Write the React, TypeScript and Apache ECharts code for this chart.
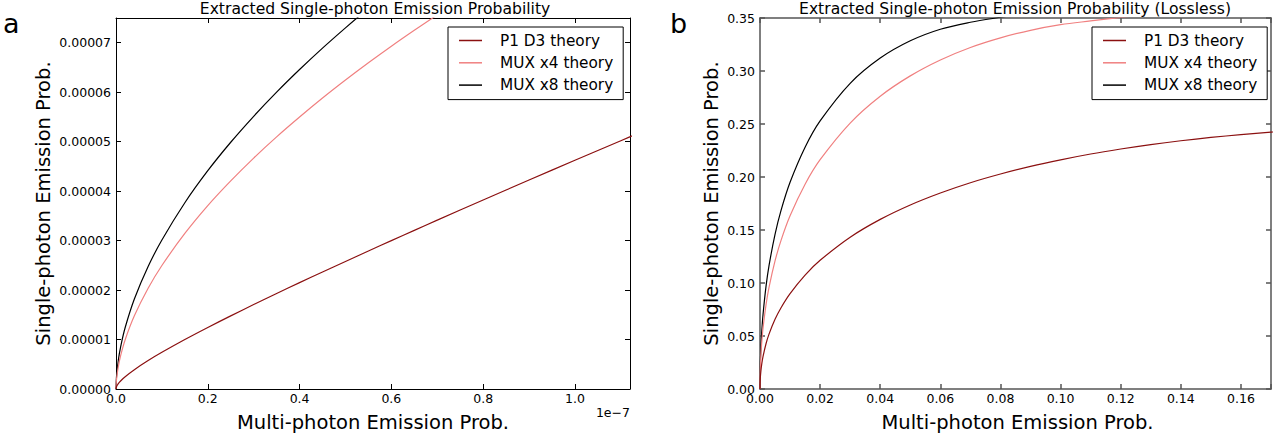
import React, { useEffect, useRef } from "react";
import * as echarts from "echarts";

// ---------- data ----------
const SERIES_NAMES = ["P1 D3 theory", "MUX x4 theory", "MUX x8 theory"];
const COLORS = ["#8b1010", "#f08080", "#000000"];

// Panel a: x in units of 1e-7, y in units of 1e-5
const X_L = [0, 0.001, 0.005, 0.01, 0.02, 0.04, 0.07, 0.1, 0.15, 0.2, 0.25, 0.3, 0.35, 0.4, 0.45, 0.5, 0.55, 0.6, 0.65, 0.7, 0.8, 0.9, 1.0, 1.1, 1.15];
const P1_L = [0, 0.044, 0.108, 0.162, 0.249, 0.391, 0.575, 0.741, 1.0, 1.244, 1.479, 1.707, 1.93, 2.15, 2.366, 2.579, 2.79, 3.0, 3.207, 3.413, 3.821, 4.224, 4.624, 5.02, 5.217];
const MUX4_L = [0, 0.181, 0.452, 0.672, 0.997, 1.479, 2.036, 2.496, 3.144, 3.707, 4.207, 4.668, 5.096, 5.497, 5.881, 6.245, 6.594, 6.929, 7.251, 7.564, null, null, null, null, null];
const MUX8_L = [0, 0.239, 0.58, 0.849, 1.243, 1.82, 2.476, 3.012, 3.766, 4.413, 4.988, 5.513, 6.001, 6.458, 6.891, 7.301, 7.695, null, null, null, null, null, null, null, null];

// Panel b (lossless)
const X_R = [0, 0.00002, 0.0001, 0.0003, 0.0006, 0.001, 0.002, 0.003, 0.005, 0.007, 0.01, 0.015, 0.02, 0.03, 0.04, 0.05, 0.06, 0.07, 0.08, 0.09, 0.1, 0.11, 0.12, 0.13, 0.14, 0.15, 0.16, 0.17, 0.175];
const P1_R = [0, 0.0045, 0.0099, 0.017, 0.0239, 0.0306, 0.0427, 0.0518, 0.0657, 0.0767, 0.09, 0.1075, 0.1214, 0.1432, 0.16, 0.1736, 0.1849, 0.1946, 0.2028, 0.21, 0.2162, 0.2217, 0.2264, 0.2306, 0.2342, 0.2373, 0.24, 0.2423, 0.2433];
const MUX4_R = [0, 0.0084, 0.0186, 0.0319, 0.0447, 0.0571, 0.0793, 0.0958, 0.1208, 0.1402, 0.1634, 0.1932, 0.2163, 0.2509, 0.2762, 0.2954, 0.3104, 0.3222, 0.3313, 0.3384, 0.3437, 0.3472, 0.3505, 0.354, null, null, null, null, null];
const MUX8_R = [0, 0.0104, 0.023, 0.0393, 0.055, 0.0701, 0.0968, 0.1164, 0.1459, 0.1685, 0.195, 0.2281, 0.2529, 0.2884, 0.3122, 0.3285, 0.3394, 0.346, 0.3507, 0.355, null, null, null, null, null, null, null, null, null];

const X_SCALE_L = 1e-7;
const Y_SCALE_L = 1e-5;

// axis settings
const L_XMAX = 1.12e-7, L_XINT = 2e-8, L_YMAX = 7.5e-5, L_YINT = 1e-5;
const R_XMAX = 0.17, R_XINT = 0.02, R_YMAX = 0.35, R_YINT = 0.05;

const FONT = "DejaVu Sans";

const isMult = (v: number, step: number) => Math.abs(v / step - Math.round(v / step)) < 1e-6;

function pairs(xs: number[], ys: (number | null)[], sx = 1, sy = 1) {
  const out: number[][] = [];
  xs.forEach((x, i) => {
    const y = ys[i];
    if (y !== null && y !== undefined) out.push([x * sx, y * sy]);
  });
  return out;
}

function buildOption() {
  const axisStyle = (color: string, width: number) => ({
    axisLine: { show: true, onZero: false, lineStyle: { color, width } },
    axisTick: { show: true, inside: true, length: 5, lineStyle: { color, width } },
    splitLine: { show: false },
  });
  const lbl = { color: "#000", fontFamily: FONT, fontSize: 12.5 };
  const cL = "#000";
  const cR = "#555";
  const wL = 1;
  const wR = 1.5;

  const leftData = [P1_L, MUX4_L, MUX8_L];
  const rightData = [P1_R, MUX4_R, MUX8_R];

  const series: any[] = [];
  const mk = (name: string, i: number, axis: number, data: number[][]) => ({
    name,
    type: "line",
    xAxisIndex: axis,
    yAxisIndex: axis,
    data,
    symbol: "none",
    smooth: 0.35,
    lineStyle: { color: COLORS[i], width: 1.2 },
    itemStyle: { color: COLORS[i] },
    z: 5 - i,
  });
  SERIES_NAMES.forEach((name, i) => {
    series.push(mk(name, i, 0, pairs(X_L, leftData[i], X_SCALE_L, Y_SCALE_L)));
  });
  SERIES_NAMES.forEach((name, i) => {
    series.push(mk(name, i, 2, pairs(X_R, rightData[i])));
  });

  const legendCommon = {
    orient: "vertical",
    top: 27,
    data: SERIES_NAMES,
    icon: "rect",
    itemWidth: 23,
    itemHeight: 1.5,
    itemGap: 7.3,
    padding: [6, 10, 7, 11],
    borderColor: "#000",
    borderWidth: 1,
    borderRadius: 0,
    backgroundColor: "#fff",
    selectedMode: false,
    textStyle: { fontFamily: FONT, fontSize: 15.3, color: "#000", padding: [0, 0, 0, 13] },
  };

  const txt = (text: string, x: number, y: number, size: number, align = "center", rotation = 0) => ({
    type: "text",
    x,
    y,
    rotation,
    style: { text, fontFamily: FONT, fontSize: size, fill: "#000", align, verticalAlign: "middle" },
  });

  return {
    animation: false,
    backgroundColor: "#fff",
    grid: [
      { left: 116, right: 644, top: 18, bottom: 45 },
      { left: 760, right: -1, top: 18, bottom: 45 },
    ],
    xAxis: [
      {
        gridIndex: 0, type: "value", position: "bottom", min: 0, max: L_XMAX, interval: L_XINT,
        ...axisStyle(cL, wL),
        axisLabel: { ...lbl, margin: 3, formatter: (v: number) => (isMult(v, L_XINT) ? (v / X_SCALE_L).toFixed(1) : "") },
      },
      {
        gridIndex: 0, type: "value", position: "top", min: 0, max: L_XMAX, interval: L_XINT,
        ...axisStyle(cL, wL), axisLabel: { show: false },
      },
      {
        gridIndex: 1, type: "value", position: "bottom", min: 0, max: R_XMAX, interval: R_XINT,
        ...axisStyle(cR, wR),
        axisLabel: { ...lbl, margin: 3, formatter: (v: number) => (isMult(v, R_XINT) ? v.toFixed(2) : "") },
      },
      {
        gridIndex: 1, type: "value", position: "top", min: 0, max: R_XMAX, interval: R_XINT,
        ...axisStyle(cR, wR), axisLabel: { show: false },
      },
    ],
    yAxis: [
      {
        gridIndex: 0, type: "value", position: "left", min: 0, max: L_YMAX, interval: L_YINT,
        ...axisStyle(cL, wL),
        axisLabel: { ...lbl, margin: 5, formatter: (v: number) => (isMult(v, L_YINT) ? v.toFixed(5) : "") },
      },
      {
        gridIndex: 0, type: "value", position: "right", min: 0, max: L_YMAX, interval: L_YINT,
        ...axisStyle(cL, wL), axisLabel: { show: false },
      },
      {
        gridIndex: 1, type: "value", position: "left", min: 0, max: R_YMAX, interval: R_YINT,
        ...axisStyle(cR, wR),
        axisLabel: { ...lbl, margin: 5, formatter: (v: number) => (isMult(v, R_YINT) ? v.toFixed(2) : "") },
      },
      {
        gridIndex: 1, type: "value", position: "right", min: 0, max: R_YMAX, interval: R_YINT,
        ...axisStyle(cR, wR), axisLabel: { show: false },
      },
    ],
    legend: [
      { ...legendCommon, left: 448 },
      { ...legendCommon, left: 1092 },
    ],
    graphic: [
      txt("a", 3, 23.7, 27, "left"),
      txt("b", 670, 23.7, 27, "left"),
      txt("Extracted Single-photon Emission Probability", 375, 9, 15.6),
      txt("Extracted Single-photon Emission Probability (Lossless)", 1015, 9, 15.6),
      txt("Single-photon Emission Prob.", 43, 203.5, 19.5, "center", Math.PI / 2),
      txt("Single-photon Emission Prob.", 711, 203.5, 19.5, "center", Math.PI / 2),
      txt("Multi-photon Emission Prob.", 373, 422, 19.5),
      txt("Multi-photon Emission Prob.", 1017.5, 422, 19.5),
      txt("1e\u22127", 630, 412, 12.5, "right"),
    ],
    series,
  };
}

export default function App() {
  const ref = useRef<HTMLDivElement>(null);
  useEffect(() => {
    if (!ref.current) return;
    const chart = echarts.init(ref.current, undefined, { renderer: "svg" });
    chart.setOption(buildOption() as any);
    return () => chart.dispose();
  }, []);
  return (
    <div
      ref={ref}
      style={{ position: "fixed", left: 0, top: 0, width: 1274, height: 434, background: "#fff" }}
    />
  );
}
